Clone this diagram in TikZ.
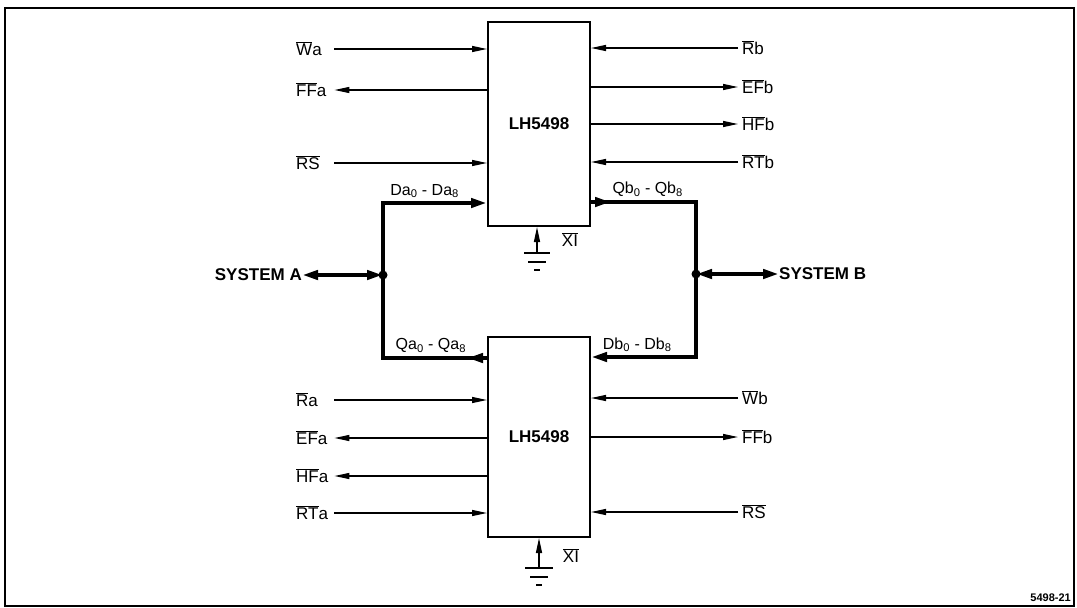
\documentclass[tikz,border=0pt]{standalone}
\usepackage{fontspec}
\setmainfont{Liberation Sans}
\usetikzlibrary{arrows.meta,calc,positioning,decorations.markings}

\newcommand{\ovl}[1]{$\overline{\mbox{#1}}$}

\tikzset{
    sigtip/.tip={Triangle[length=15pt,width=6pt]},
    bustip/.tip={Triangle[length=16pt,width=9pt]},
    sig/.style={line width=1.3pt},
    bus/.style={line width=4pt},
    chip/.style={draw, line width=2pt, minimum width=102pt, font=\fontsize{17}{19}\bfseries\selectfont},
    lbl/.style={inner sep=0pt, text height=12.2pt, text depth=0pt, font=\fontsize{17}{19}\selectfont},
    lleft/.style={lbl, anchor=west, text width=38pt},
    lright/.style={lbl, anchor=west, inner xsep=4pt},
    buslbl/.style={inner sep=0pt, above=3pt, font=\fontsize{16}{18}\selectfont},
    syslbl/.style={inner sep=0pt, font=\fontsize{17}{19}\bfseries\selectfont},
    outmark/.style={postaction={decorate}, decoration={markings, mark=at position 20pt with {\arrow{bustip}}}}
}

\begin{document}
\begin{tikzpicture}[x=1pt,y=-1pt]
    \path[use as bounding box] (0,0) rectangle (1077,608);
    \draw[line width=1.3pt] (5,8) rectangle (1074,606);

    % the two FIFOs
    \node[chip, minimum height=204pt] (top) at (539,124) {LH5498};
    \node[chip, minimum height=200pt] (bot) at (539,437) {LH5498};

    % top FIFO, left side
    \node[lleft] (wa) at (296,49) {\ovl{W}a};
    \node[lleft] (ffa) at (296,90) {\ovl{FF}a};
    \node[lleft] (rsa) at (296,163) {\ovl{RS}};
    \draw[sig,-sigtip] (wa.east) -- (wa.east -| top.west);
    \draw[sig,-sigtip] (ffa.east -| top.west) -- (ffa.east);
    \draw[sig,-sigtip] (rsa.east) -- (rsa.east -| top.west);

    % top FIFO, right side
    \node[lright] (rb) at (738,48) {\ovl{R}b};
    \node[lright] (efb) at (738,87) {\ovl{EF}b};
    \node[lright] (hfb) at (738,124) {\ovl{HF}b};
    \node[lright] (rtb) at (738,162) {\ovl{RT}b};
    \draw[sig,-sigtip] (rb.west) -- (rb.west -| top.east);
    \draw[sig,-sigtip] (efb.west -| top.east) -- (efb.west);
    \draw[sig,-sigtip] (hfb.west -| top.east) -- (hfb.west);
    \draw[sig,-sigtip] (rtb.west) -- (rtb.west -| top.east);

    % bottom FIFO, left side
    \node[lleft] (ra) at (296,400) {\ovl{R}a};
    \node[lleft] (efa) at (296,438) {\ovl{EF}a};
    \node[lleft] (hfa) at (296,476) {\ovl{HF}a};
    \node[lleft] (rta) at (296,513) {\ovl{RT}a};
    \draw[sig,-sigtip] (ra.east) -- (ra.east -| bot.west);
    \draw[sig,-sigtip] (efa.east -| bot.west) -- (efa.east);
    \draw[sig,-sigtip] (hfa.east -| bot.west) -- (hfa.east);
    \draw[sig,-sigtip] (rta.east) -- (rta.east -| bot.west);

    % bottom FIFO, right side
    \node[lright] (wb) at (738,398) {\ovl{W}b};
    \node[lright] (ffb) at (738,437) {\ovl{FF}b};
    \node[lright] (rsb) at (738,512) {\ovl{RS}};
    \draw[sig,-sigtip] (wb.west) -- (wb.west -| bot.east);
    \draw[sig,-sigtip] (ffb.west -| bot.east) -- (ffb.west);
    \draw[sig,-sigtip] (rsb.west) -- (rsb.west -| bot.east);

    % data buses
    \coordinate (ja) at (383,275);
    \coordinate (jb) at (696,274);
    \draw[bus,-bustip] (ja) |- node[buslbl, pos=0.7] {Da\textsubscript{0} - Da\textsubscript{8}} ($(top.south west)+(0,-24)$);
    \draw[bus,outmark] ($(top.south east)+(0,-25)$) -| node[buslbl, pos=0.27] {Qb\textsubscript{0} - Qb\textsubscript{8}} (jb);
    \draw[bus,outmark] ($(bot.north west)+(0,22)$) -| node[buslbl, pos=0.27] {Qa\textsubscript{0} - Qa\textsubscript{8}} (ja);
    \draw[bus,-bustip] (jb) |- node[buslbl, pos=0.78] {Db\textsubscript{0} - Db\textsubscript{8}} ($(bot.north east)+(0,21)$);

    % systems
    \node[syslbl, anchor=east] (sysa) at (302,275) {SYSTEM A};
    \node[syslbl, anchor=west] (sysb) at (779,274) {SYSTEM B};
    \draw[bus,bustip-bustip] (sysa.east) -- (ja);
    \draw[bus,bustip-bustip] (jb) -- (sysb.west);
    \fill (ja) circle (4.5pt);
    \fill (jb) circle (4.5pt);

    % XI tied to ground
    \coordinate (gnda) at (537,253);
    \coordinate (gndb) at (539,568);
    \draw[sig,-sigtip] (gnda) -- (gnda |- top.south);
    \draw[sig,-sigtip] (gndb) -- (gndb |- bot.south);
    \draw[sig] ($(gnda)+(-13,0)$) -- ++(26,0) ($(gnda)+(-9,9)$) -- ++(18,0) ($(gnda)+(-3,17)$) -- ++(6,0);
    \draw[sig] ($(gndb)+(-14,0)$) -- ++(28,0) ($(gndb)+(-9,9)$) -- ++(18,0) ($(gndb)+(-3,17)$) -- ++(6,0);
    \node[lbl] (xia) at (570,240) {\ovl{XI}};
    \node[lbl] (xib) at (571,556) {\ovl{XI}};

    \node[anchor=south east, inner sep=0pt, font=\fontsize{11}{12}\bfseries\selectfont] (fig) at (1071,602) {5498-21};
\end{tikzpicture}
\end{document}
